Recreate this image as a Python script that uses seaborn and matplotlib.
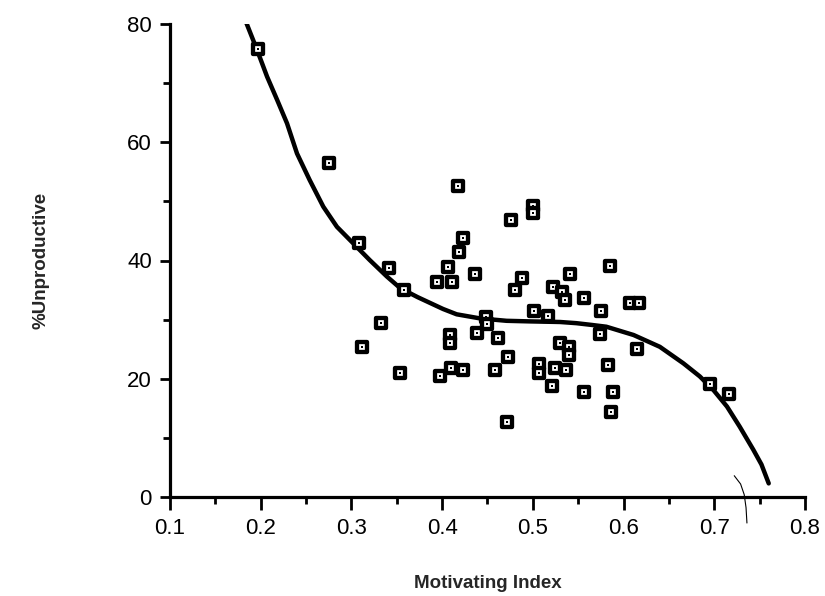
import matplotlib
matplotlib.use("Agg")
import matplotlib.pyplot as plt
import seaborn as sns
import pandas as pd
from matplotlib.ticker import MultipleLocator

# Observed schools: motivating index vs. percent unproductive time
motivating_index = [
    0.197, 0.275, 0.308, 0.341, 0.358, 0.394, 0.411, 0.406, 0.333, 0.312,
    0.354, 0.398, 0.417, 0.423, 0.419, 0.436, 0.476, 0.500, 0.500, 0.488,
    0.480, 0.541, 0.522, 0.532, 0.535, 0.556, 0.585, 0.607, 0.617, 0.575,
    0.448, 0.450, 0.438, 0.462, 0.501, 0.517, 0.409, 0.409, 0.530, 0.540,
    0.540, 0.473, 0.410, 0.423, 0.458, 0.507, 0.507, 0.524, 0.537, 0.521,
    0.472, 0.574, 0.615, 0.583, 0.556, 0.588, 0.586, 0.695, 0.716,
]
pct_unproductive = [
    75.7, 56.5, 43.0, 38.7, 35.0, 36.4, 36.4, 38.9, 29.5, 25.3,
    20.9, 20.5, 52.6, 43.8, 41.5, 37.8, 46.9, 49.2, 48.0, 37.0,
    35.0, 37.8, 35.6, 34.7, 33.3, 33.6, 39.1, 32.8, 32.8, 31.5,
    30.5, 29.3, 27.7, 26.9, 31.4, 30.6, 27.4, 26.0, 26.0, 25.4,
    24.0, 23.6, 21.8, 21.5, 21.5, 22.5, 20.9, 21.8, 21.5, 18.7,
    12.7, 27.6, 25.0, 22.3, 17.8, 17.7, 14.4, 19.1, 17.4,
]

# Fitted trend curve
fit_x = [0.180, 0.196, 0.207, 0.218, 0.229, 0.240, 0.254, 0.269, 0.284, 0.302,
         0.320, 0.339, 0.354, 0.373, 0.387, 0.401, 0.416, 0.442, 0.471, 0.497,
         0.530, 0.548, 0.565, 0.581, 0.611, 0.640, 0.666, 0.684, 0.699, 0.714,
         0.728, 0.743, 0.752, 0.760]
fit_y = [81.8, 75.6, 71.1, 67.2, 63.2, 58.1, 53.6, 49.1, 45.7, 42.9,
         40.1, 37.3, 35.3, 33.8, 32.8, 31.8, 30.9, 30.2, 29.8, 29.7,
         29.6, 29.4, 29.1, 28.8, 27.4, 25.4, 22.6, 20.4, 18.1, 15.3,
         11.9, 8.0, 5.5, 2.3]

x_ticks = [0.1, 0.2, 0.3, 0.4, 0.5, 0.6, 0.7, 0.8]
y_ticks = [0, 20, 40, 60, 80]

points = pd.DataFrame({"Motivating Index": motivating_index,
                       "%Unproductive": pct_unproductive})
curve = pd.DataFrame({"x": fit_x, "y": fit_y})

sns.set_style("ticks")
plt.rcParams["font.family"] = ["Liberation Sans", "DejaVu Sans"]

fig = plt.figure(figsize=(8.25, 5.96), dpi=100)
ax = fig.add_axes([170 / 825, 1 - 497 / 596, 635 / 825, 473 / 596])

sns.lineplot(data=curve, x="x", y="y", ax=ax, color="black", lw=3.2,
             sort=False, estimator=None, zorder=2,
             solid_joinstyle="round", solid_capstyle="round")
sns.scatterplot(data=points, x="Motivating Index", y="%Unproductive", ax=ax,
                marker="s", s=58, color="white", edgecolor="black",
                linewidth=3.1, zorder=3)
sns.scatterplot(data=points, x="Motivating Index", y="%Unproductive", ax=ax,
                marker="s", s=2.5, color="black", linewidth=0, zorder=4)

# faint pen stroke crossing the baseline
ax.plot([0.722, 0.729, 0.733, 0.735, 0.736], [3.6, 2.2, 0.4, -1.8, -4.4],
        color="black", lw=0.8, clip_on=False, zorder=1)

ax.set_xlim(0.1, 0.8)
ax.set_ylim(0, 80)
ax.set_xticks(x_ticks)
ax.set_yticks(y_ticks)
ax.set_xticklabels([f"{v:.1f}" for v in x_ticks])
ax.set_yticklabels([str(v) for v in y_ticks])
ax.xaxis.set_minor_locator(MultipleLocator(0.05))
ax.yaxis.set_minor_locator(MultipleLocator(10))

sns.despine(ax=ax)
for side in ("left", "bottom"):
    ax.spines[side].set_linewidth(2.3)
    ax.spines[side].set_color("black")
ax.tick_params(which="major", length=9, width=2.0, color="black",
               labelsize=16, labelcolor="black", pad=6)
ax.tick_params(which="minor", length=5, width=2.0, color="black")
ax.tick_params(axis="y", which="major", length=7)

ax.set_xlabel("Motivating Index", fontsize=13.5, fontweight="bold", labelpad=26)
ax.set_ylabel("%Unproductive", fontsize=13.5, fontweight="bold", labelpad=56)

fig.savefig("out.png", dpi=100)
